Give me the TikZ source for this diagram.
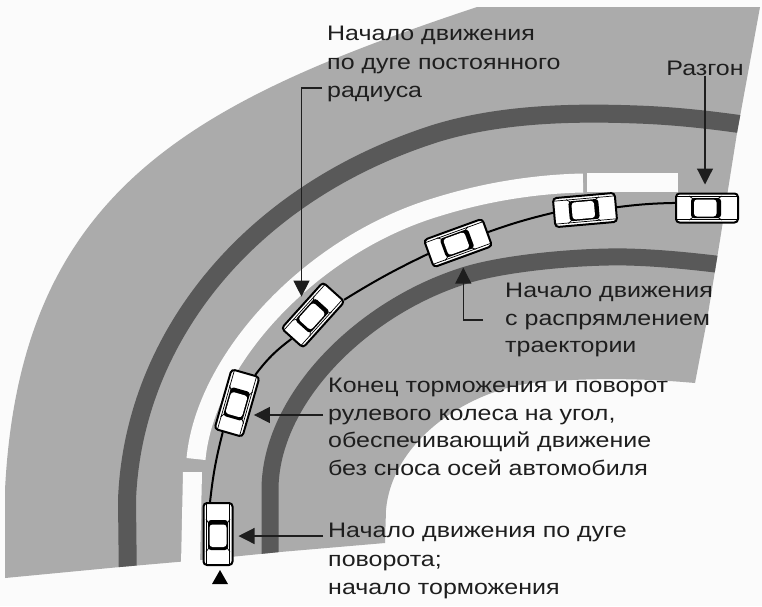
\documentclass[tikz,border=0pt]{standalone}
\usepackage{fontspec}
\setmainfont[FakeStretch=1.19]{Liberation Sans}
\usetikzlibrary{arrows.meta, positioning}
\definecolor{paper}{HTML}{FBFBFB}
\definecolor{roadgray}{HTML}{ABABAB}
\definecolor{banddark}{HTML}{595959}
\definecolor{inkblack}{HTML}{1E1E1E}
\tikzstyle{darkband} = [draw=banddark, line width=18pt]
\tikzstyle{whiteband} = [draw=paper, line width=19pt]
\tikzstyle{track} = [draw=black, line width=2pt]
\tikzstyle{pointer} = [draw=inkblack, line width=1.2pt, -{Triangle[width=16pt,length=16pt]}]
\tikzstyle{caption} = [anchor=west, inner sep=0pt, align=left, text=inkblack, font=\fontsize{21}{28.5}\selectfont]
\tikzstyle{car} = [rectangle, rounded corners=3.5pt, draw=black, line width=2pt, fill=white, minimum width=62pt, minimum height=29pt, inner sep=0pt,
  path picture={
    \draw[line width=0.7pt] (-30pt,-11.5pt) -- (30pt,-11.5pt) (-30pt,11.5pt) -- (30pt,11.5pt);
    \fill[black, rounded corners=3pt] (-16pt,-10pt) rectangle (14pt,10pt);
    \fill[white, rounded corners=3pt] (-13pt,-8.5pt) rectangle (9.5pt,8.5pt);
    \draw[line width=0.7pt] (-13pt,-8.5pt) -- (-18pt,-12pt) (-13pt,8.5pt) -- (-18pt,12pt) (9.5pt,-8.5pt) -- (15pt,-12pt) (9.5pt,8.5pt) -- (15pt,12pt);
  }]
\newcommand{\roadoutline}{(5,578) -- (5,490) .. controls (20,190) and (192,102) .. (477,7) -- (760,7) -- (737,133) -- (720,240) -- (707,320) -- (695,383) .. controls (640,378) and (590,378) .. (540,382) .. controls (470,388) and (392,440) .. (386,510) -- (385,543) -- (280,552) -- (200,560) -- (120,567) -- cycle}

\begin{document}
\begin{tikzpicture}[x=1pt, y=-1pt]

\fill[paper] (0,0) rectangle (762,606);
\fill[roadgray] \roadoutline;

\begin{scope}
\clip \roadoutline;
\draw[darkband] (128,590) -- (127,500) .. controls (133,340) and (247,193) .. (437,133) .. controls (500,114) and (570,112) .. (637,114.5) .. controls (680,116) and (720,121) .. (760,127);
\draw[darkband, line width=17pt] (270,570) -- (270,490) .. controls (270,400) and (360,310) .. (460,277) .. controls (500,263) and (580,256) .. (627,257) .. controls (665,258) and (700,262) .. (740,267);
\end{scope}

\draw[whiteband] (196,459) .. controls (205,360) and (310,245) .. (437,207) .. controls (485,192) and (535,184) .. (583,183);
\fill[paper] (587,173) rectangle (678,192);
\fill[paper] (183,472) -- (202,472) -- (200,565) -- (181,565) -- cycle;

\node (car1) [car, rotate=90] at (218,534) {};
\node (car2) [car, rotate=74] at (237,403) {};
\node (car3) [car, rotate=48] at (313,315) {};
\node (car4) [car, rotate=20] at (458,243) {};
\node (car5) [car, rotate=5] at (585,210) {};
\node (car6) [car] at (707,208) {};

\draw [track] (car1.14) to[bend left=4] (car2.170);
\draw [track] (car2.-17) to[bend left=8] (car3.west);
\draw [track] (car3.-22) to[bend left=3] (car4.west);
\draw [track] (car4.east) to[bend left=3] (car5.west);
\draw [track] (car5.east) to[bend left=3] (car6.171);

\node (arclabel) [caption] at (327,64) {Начало движения\\по дуге постоянного\\радиуса};
\node (boostlabel) [caption, anchor=center] at (705,68) {Разгон};
\node (straightlabel) [caption, font=\fontsize{21}{27.5}\selectfont] at (505,320) {Начало движения\\с распрямлением\\траектории};
\node (brakeendlabel) [caption, font=\fontsize{21}{27.5}\selectfont] at (328,427) {Конец торможения и поворот\\рулевого колеса на угол,\\обеспечивающий движение\\без сноса осей автомобиля};
\node (entrylabel) [caption] at (328,561) {Начало движения по дуге\\поворота;\\начало торможения};

\draw [pointer, shorten >=8pt] ([xshift=-5pt, yshift=-24pt]arclabel.west) -| (car3.north);
\draw [pointer, shorten >=8pt] (boostlabel.south) -- (boostlabel.south |- car6.north);
\draw [pointer, shorten <=22pt, shorten >=10pt] (straightlabel.west) -| (car4.south);
\draw [pointer, shorten >=2pt] ([xshift=-5pt, yshift=12pt]brakeendlabel.west) -- ([yshift=12pt]brakeendlabel.west -| car2.south);
\draw [pointer, shorten >=5pt] ([xshift=-5pt, yshift=25pt]entrylabel.west) -- ([yshift=25pt]entrylabel.west -| car1.south);

\fill[black] (212,584) -- (220,570) -- (228,584) -- cycle;

\end{tikzpicture}
\end{document}
